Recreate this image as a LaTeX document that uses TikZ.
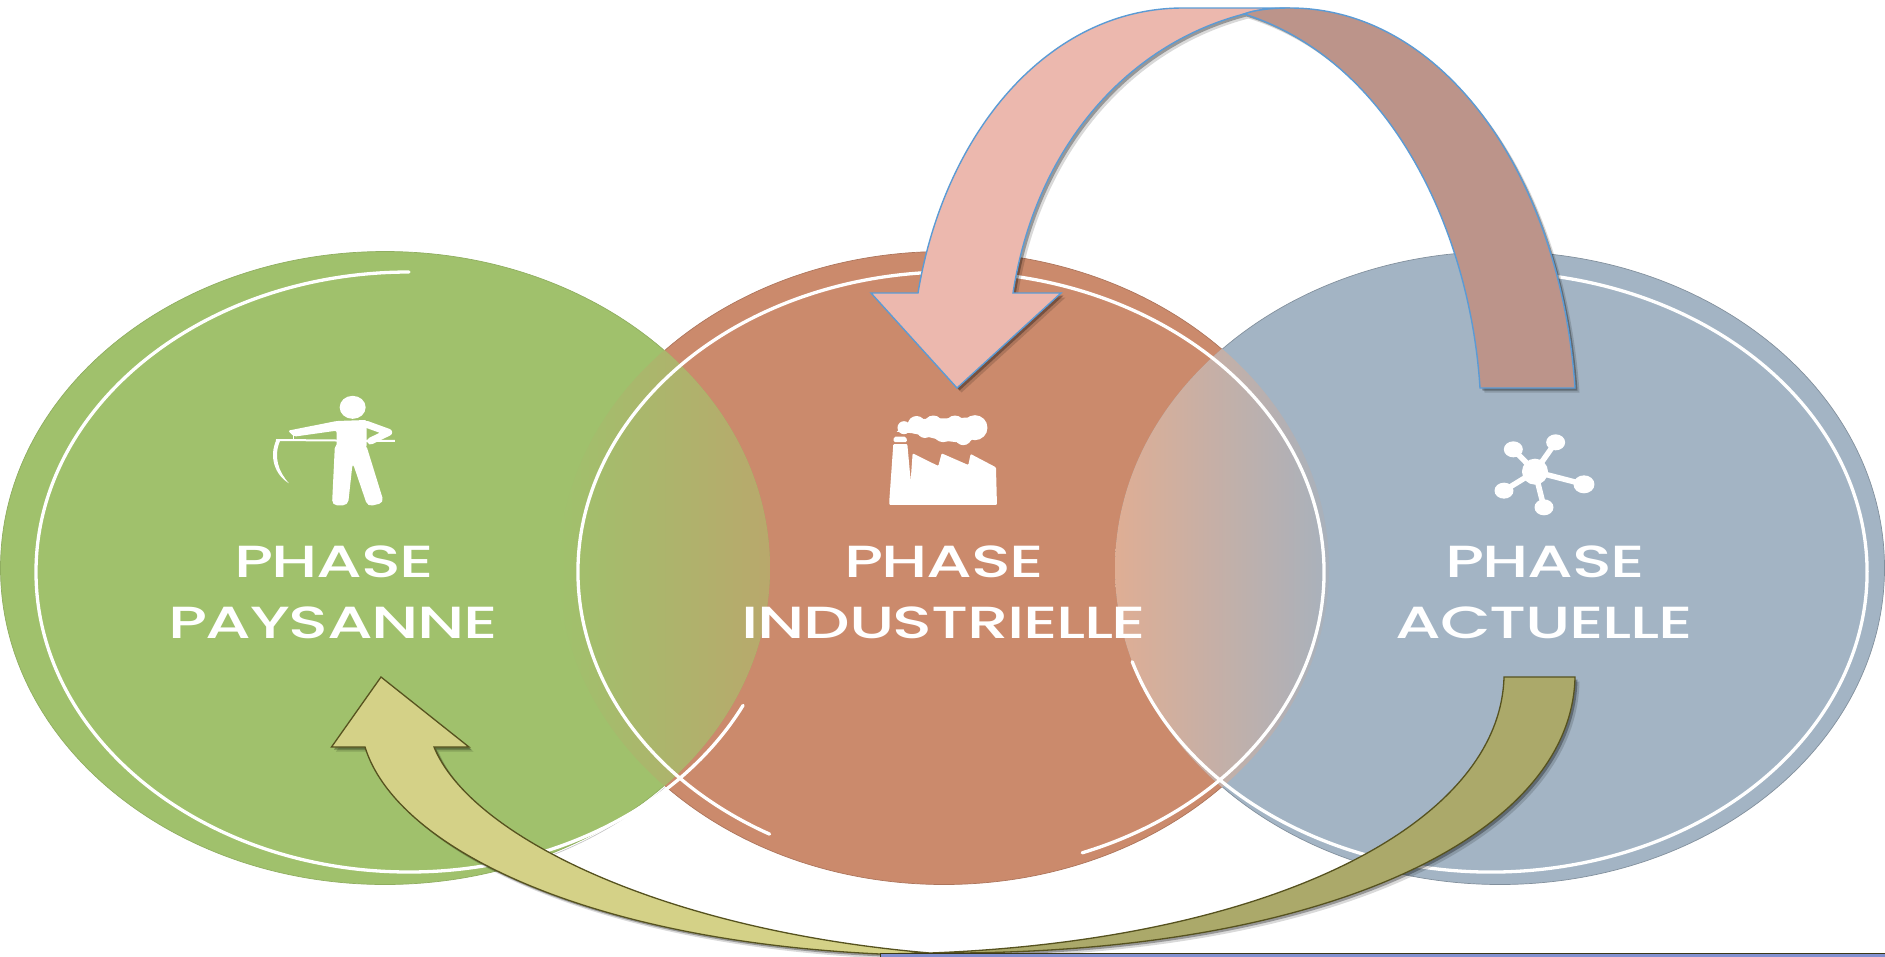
\documentclass[tikz,border=0pt]{standalone}
\usepackage{fontspec}
\usetikzlibrary{shadows}
\newfontfamily\phasefont[FakeStretch=1.46,LetterSpace=-3]{Poppins Medium}
\definecolor{phasegreen}{HTML}{A0C16C}
\definecolor{phasered}{HTML}{CB8A6C}
\definecolor{phaseblue}{HTML}{A3B4C4}
\definecolor{lensolive}{HTML}{B9A86C}
\definecolor{lenspeach}{HTML}{DFAE94}
\definecolor{lensgrey}{HTML}{A8B1BC}
\definecolor{pinkband}{HTML}{ECB8AE}
\definecolor{brownband}{HTML}{BC948A}
\definecolor{blueline}{HTML}{5B9BD5}
\definecolor{yellowband}{HTML}{D4D187}
\definecolor{oliveband}{HTML}{ABA96A}
\definecolor{oliveline}{HTML}{56521F}
\tikzset{
  phaselabel/.style={text=white,anchor=base,font=\phasefont\fontsize{45}{48}\selectfont,inner sep=0pt},
  whitering/.style={draw=white,line width=3.3pt,line cap=round},
  disc/.style={line width=.7pt},
  topband/.style={draw=blueline,line width=1.4pt,line join=miter,
    drop shadow={shadow xshift=4.5pt,shadow yshift=-4.5pt,opacity=.15,fill=black},
    drop shadow={shadow xshift=2.5pt,shadow yshift=-2.5pt,opacity=.3,fill=black}},
  lowband/.style={draw=oliveline,line width=1.3pt,line join=miter,
    drop shadow={shadow xshift=4.5pt,shadow yshift=-4.5pt,opacity=.15,fill=black},
    drop shadow={shadow xshift=2.5pt,shadow yshift=-2.5pt,opacity=.3,fill=black}},
  icon/.style={fill=white,draw=none}
}
\begin{document}
\begin{tikzpicture}[x=1pt,y=-1pt]
  \useasboundingbox (0,0) rectangle (1885,956);

  % Centres of the three discs and of their white rings
  \coordinate (G) at (385,568);
  \coordinate (R) at (944,568);
  \coordinate (B) at (1500,568);
  \coordinate (GW) at (409,572);
  \coordinate (RW) at (951,572);
  \coordinate (BW) at (1491,572);

  % The three discs
  \filldraw[disc,fill=phasered,draw=phasered!85!black] (R) ellipse [x radius=384.5pt,y radius=316.5pt];
  \filldraw[disc,fill=phaseblue,draw=phaseblue!80!black] (B) ellipse [x radius=384.5pt,y radius=316.5pt];
  \filldraw[disc,fill=phasegreen,draw=phasegreen!90!black] (G) ellipse [x radius=384.5pt,y radius=316.5pt];

  % Overlap of green and red
  \begin{scope}
    \clip (G) ellipse [x radius=385pt,y radius=317pt];
    \clip (R) ellipse [x radius=385pt,y radius=317pt];
    \shade[left color=phasegreen,right color=lensolive] (559,200) rectangle (771,900);
  \end{scope}

  % Overlap of red and blue
  \begin{scope}
    \clip (R) ellipse [x radius=385pt,y radius=317pt];
    \clip (B) ellipse [x radius=385pt,y radius=317pt];
    \shade[left color=lenspeach,right color=lensgrey] (1115,200) rectangle (1329,900);
  \end{scope}

  % Thin edge under the green disc
  \draw[gray!45,line width=.7pt] (G) ++(-43.6:386.5pt and 318.5pt) arc [start angle=-43.6,end angle=-64.7,x radius=386.5pt,y radius=318.5pt];

  % White rings, each one open
  \draw[whitering] (GW) ++(90:373pt and 300pt) arc [start angle=90,end angle=333.6,x radius=373pt,y radius=300pt];
  \draw[whitering] (RW) ++(240.9:373pt and 300pt) arc [start angle=240.9,end angle=-69.4,x radius=373pt,y radius=300pt];
  \draw[whitering] (BW) ++(197.4:376pt and 300pt) arc [start angle=197.4,end angle=450,x radius=376pt,y radius=300pt];

  % Labels
  \node[phaselabel] (paysanA) at (334,577) {PHASE};
  \node[phaselabel] (paysanB) at (333,638) {PAYSANNE};
  \node[phaselabel] (industA) at (944,577) {PHASE};
  \node[phaselabel] (industB) at (944,638) {INDUSTRIELLE};
  \node[phaselabel] (actuelA) at (1545,577) {PHASE};
  \node[phaselabel] (actuelB) at (1544,638) {ACTUELLE};

  % Icon of the peasant with his scythe
  \begin{scope}[shift={(220,360)},x=.3333pt,y=-.3333pt]
    \fill[icon] (398,142) ellipse [x radius=13pt,y radius=11.5pt];
    \fill[icon,rounded corners=2pt] (204,212) -- (350,183) -- (440,180) -- (440,262) -- (350,262) -- (350,212) -- (222,230) -- cycle;
    \draw[white,line width=7pt,line join=round,line cap=round] (440,193) -- (506,217) -- (452,243);
    \fill[icon,rounded corners=5pt] (345,250) -- (336,436) -- (384,436) -- (398,308) -- (443,440) -- (492,428) -- (437,250) -- cycle;
    \draw[white,line width=2pt] (168,240) -- (525,243);
    \draw[white,line width=1.5pt] (220,215) -- (220,240);
    \fill[icon] (170,238) .. controls (145,290) and (165,345) .. (207,370) .. controls (175,335) and (160,290) .. (180,243) -- cycle;
  \end{scope}

  % Icon of the factory
  \begin{scope}[shift={(700,380)},x=.3333pt,y=-.3333pt]
    \fill[icon,rounded corners=1pt] (568,375) -- (568,362) -- (580,192) -- (622,192) -- (632,302) -- (638,220) -- (715,258) -- (725,220) -- (805,255) -- (812,222) -- (888,262) -- (891,375) -- cycle;
    \fill[icon,rounded corners=1.5pt] (580,186) -- (582,170) -- (618,170) -- (622,186) -- cycle;
    \fill[icon] (590,155) -- (640,118) -- (830,112) -- (860,150) -- (800,190) -- (730,182) -- (640,160) -- cycle;
    \fill[icon] (612,143) circle [radius=6.5pt] (650,135) circle [radius=9pt] (700,135) circle [radius=9.5pt]
      (765,135) circle [radius=9.5pt] (825,143) circle [radius=12.5pt] (790,170) circle [radius=8.5pt]
      (730,155) circle [radius=10.5pt] (675,150) circle [radius=8pt];
  \end{scope}

  % Icon of the network
  \begin{scope}[shift={(1380,400)},x=.3333pt,y=-.3333pt]
    \draw[white,line width=5.5pt] (400,148) -- (465,215) -- (527,127) (465,215) -- (612,253) (465,215) -- (372,272) (465,215) -- (492,322);
    \fill[icon] (465,215) circle [radius=13pt] (400,148) ellipse [x radius=9.5pt,y radius=8pt] (527,127) ellipse [x radius=9.5pt,y radius=8pt]
      (612,253) ellipse [x radius=10.5pt,y radius=9pt] (372,272) ellipse [x radius=9.5pt,y radius=8pt] (492,322) ellipse [x radius=9.5pt,y radius=8pt];
  \end{scope}

  % Upper arrow, from the right disc to the middle one
  \filldraw[topband,fill=pinkband] (957,388) -- (871,293) -- (918,293) .. controls (945,130) and (1050,8) .. (1183,8) -- (1290,8) .. controls (1270,8) and (1255,10) .. (1244,14) .. controls (1125,45) and (1035,150) .. (1013,293) -- (1061,293) -- cycle;
  \filldraw[topband,fill=brownband] (1480,388) -- (1575,388) .. controls (1560,170) and (1440,8) .. (1290,8) .. controls (1270,8) and (1255,10) .. (1244,14) .. controls (1390,60) and (1470,230) .. (1480,388) -- cycle;

  % Lower arrow, from the right disc to the left one
  \filldraw[lowband,fill=oliveband] (1504,677) -- (1575,677) .. controls (1572,830) and (1340,950) .. (960,953) -- (930,953) .. controls (1270,940) and (1500,825) .. (1504,677) -- cycle;
  \filldraw[lowband,fill=yellowband] (381,677) -- (469,747) -- (434,747) .. controls (470,835) and (660,930) .. (930,953) -- (880,954) .. controls (580,940) and (395,845) .. (365,747) -- (331.5,747) -- cycle;

  % Strip along the bottom edge
  \filldraw[fill=phaseblue!80!blue,draw=oliveline!70!black,line width=1pt] (880,953.5) rectangle (1890,960);
\end{tikzpicture}
\end{document}
